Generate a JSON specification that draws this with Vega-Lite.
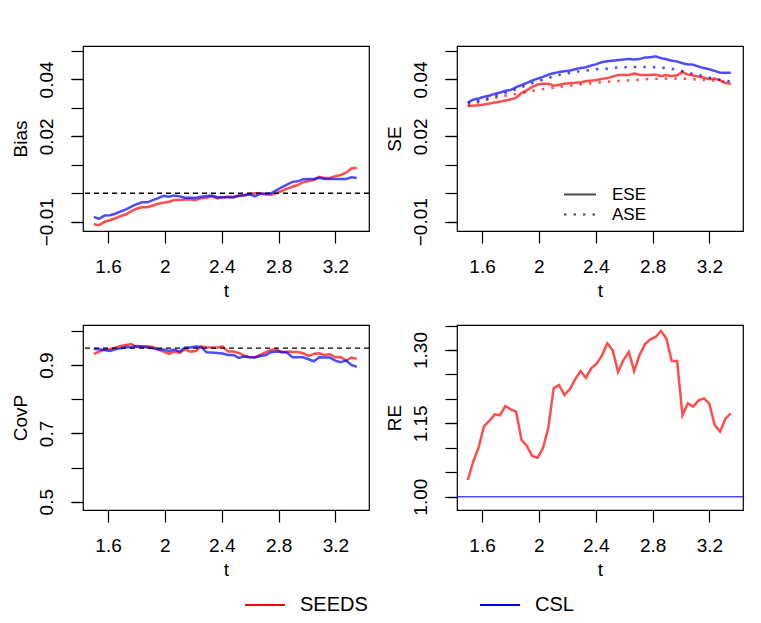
{
  "$schema": "https://vega.github.io/schema/vega-lite/v6.json",
  "padding": {"left": 10, "top": 45, "right": 5, "bottom": 5},
  "background": "white",
  "config": {
    "font": "Liberation Sans",
    "view": {"stroke": "black", "strokeWidth": 1.2},
    "axis": {"grid": false, "domain": false, "tickColor": "black", "tickSize": 12, "tickWidth": 1.2, "labelColor": "black", "titleColor": "black", "labelFontSize": 19, "titleFontSize": 19, "titleFontWeight": "normal", "labelFlush": false, "labelOverlap": false, "labelBound": false},
    "axisX": {"labelPadding": 29.7, "labelBaseline": "alphabetic", "titleX": 143, "titleY": 65, "titleBaseline": "alphabetic", "titleAlign": "center"},
    "axisY": {"labelAngle": -90, "labelAlign": "center", "labelBaseline": "alphabetic", "labelPadding": 19, "titleX": -57, "titleY": 92.5, "titleAngle": -90, "titleBaseline": "alphabetic", "titleAlign": "center"}
  },
  "datasets": {
    "bias": [
      {"t":1.5,"SEEDS":-0.0109,"CSL":-0.0083},
      {"t":1.5378,"SEEDS":-0.0112,"CSL":-0.009},
      {"t":1.5755,"SEEDS":-0.01,"CSL":-0.0078},
      {"t":1.6133,"SEEDS":-0.0095,"CSL":-0.0077},
      {"t":1.651,"SEEDS":-0.0088,"CSL":-0.0072},
      {"t":1.6888,"SEEDS":-0.008,"CSL":-0.0064},
      {"t":1.7265,"SEEDS":-0.0074,"CSL":-0.0057},
      {"t":1.7643,"SEEDS":-0.0063,"CSL":-0.0047},
      {"t":1.802,"SEEDS":-0.0054,"CSL":-0.0038},
      {"t":1.8398,"SEEDS":-0.0049,"CSL":-0.0032},
      {"t":1.8776,"SEEDS":-0.0049,"CSL":-0.0032},
      {"t":1.9153,"SEEDS":-0.0043,"CSL":-0.0024},
      {"t":1.9531,"SEEDS":-0.0037,"CSL":-0.0017},
      {"t":1.9908,"SEEDS":-0.0033,"CSL":-0.0009},
      {"t":2.0286,"SEEDS":-0.003,"CSL":-0.0012},
      {"t":2.0663,"SEEDS":-0.0024,"CSL":-0.0008},
      {"t":2.1041,"SEEDS":-0.0024,"CSL":-0.0011},
      {"t":2.1418,"SEEDS":-0.0022,"CSL":-0.0016},
      {"t":2.1796,"SEEDS":-0.0022,"CSL":-0.0016},
      {"t":2.2173,"SEEDS":-0.0024,"CSL":-0.0016},
      {"t":2.2551,"SEEDS":-0.0018,"CSL":-0.0012},
      {"t":2.2929,"SEEDS":-0.0016,"CSL":-0.001},
      {"t":2.3306,"SEEDS":-0.0011,"CSL":-0.0008},
      {"t":2.3684,"SEEDS":-0.0018,"CSL":-0.0014},
      {"t":2.4061,"SEEDS":-0.0014,"CSL":-0.0014},
      {"t":2.4439,"SEEDS":-0.0012,"CSL":-0.0014},
      {"t":2.4816,"SEEDS":-0.0012,"CSL":-0.0015},
      {"t":2.5194,"SEEDS":-0.0009,"CSL":-0.0009},
      {"t":2.5571,"SEEDS":-0.0006,"CSL":-0.0008},
      {"t":2.5949,"SEEDS":-0.0003,"CSL":-0.0004},
      {"t":2.6327,"SEEDS":0.0,"CSL":-0.0011},
      {"t":2.6704,"SEEDS":0.0,"CSL":-0.0002},
      {"t":2.7082,"SEEDS":-0.0004,"CSL":-0.0002},
      {"t":2.7459,"SEEDS":-0.0005,"CSL":0.0},
      {"t":2.7837,"SEEDS":0.0,"CSL":0.001},
      {"t":2.8214,"SEEDS":0.0008,"CSL":0.0021},
      {"t":2.8592,"SEEDS":0.0016,"CSL":0.003},
      {"t":2.8969,"SEEDS":0.0023,"CSL":0.004},
      {"t":2.9347,"SEEDS":0.0029,"CSL":0.0042},
      {"t":2.9724,"SEEDS":0.0039,"CSL":0.0049},
      {"t":3.0102,"SEEDS":0.0043,"CSL":0.005},
      {"t":3.048,"SEEDS":0.0046,"CSL":0.005},
      {"t":3.0857,"SEEDS":0.0058,"CSL":0.0054},
      {"t":3.1235,"SEEDS":0.0054,"CSL":0.005},
      {"t":3.1612,"SEEDS":0.0054,"CSL":0.005},
      {"t":3.199,"SEEDS":0.006,"CSL":0.005},
      {"t":3.2367,"SEEDS":0.0064,"CSL":0.005},
      {"t":3.2745,"SEEDS":0.0072,"CSL":0.005},
      {"t":3.3122,"SEEDS":0.0087,"CSL":0.0056},
      {"t":3.35,"SEEDS":0.009,"CSL":0.0054}
    ],
    "se_ese": [
      {"t":1.5,"SEEDS":0.0306,"CSL":0.0319},
      {"t":1.5378,"SEEDS":0.0308,"CSL":0.0329},
      {"t":1.5755,"SEEDS":0.0309,"CSL":0.0333},
      {"t":1.6133,"SEEDS":0.0312,"CSL":0.0339},
      {"t":1.651,"SEEDS":0.0315,"CSL":0.0343},
      {"t":1.6888,"SEEDS":0.0319,"CSL":0.0349},
      {"t":1.7265,"SEEDS":0.0322,"CSL":0.0354},
      {"t":1.7643,"SEEDS":0.0326,"CSL":0.036},
      {"t":1.802,"SEEDS":0.033,"CSL":0.0363},
      {"t":1.8398,"SEEDS":0.0336,"CSL":0.0373},
      {"t":1.8776,"SEEDS":0.0352,"CSL":0.038},
      {"t":1.9153,"SEEDS":0.0362,"CSL":0.0388},
      {"t":1.9531,"SEEDS":0.0374,"CSL":0.0396},
      {"t":1.9908,"SEEDS":0.0382,"CSL":0.0403},
      {"t":2.0286,"SEEDS":0.0385,"CSL":0.0409},
      {"t":2.0663,"SEEDS":0.0385,"CSL":0.0417},
      {"t":2.1041,"SEEDS":0.0378,"CSL":0.0422},
      {"t":2.1418,"SEEDS":0.0381,"CSL":0.0426},
      {"t":2.1796,"SEEDS":0.0385,"CSL":0.0429},
      {"t":2.2173,"SEEDS":0.0387,"CSL":0.0431},
      {"t":2.2551,"SEEDS":0.0388,"CSL":0.0436},
      {"t":2.2929,"SEEDS":0.039,"CSL":0.044},
      {"t":2.3306,"SEEDS":0.0394,"CSL":0.0443},
      {"t":2.3684,"SEEDS":0.0396,"CSL":0.0449},
      {"t":2.4061,"SEEDS":0.0398,"CSL":0.0454},
      {"t":2.4439,"SEEDS":0.0402,"CSL":0.0461},
      {"t":2.4816,"SEEDS":0.0405,"CSL":0.0464},
      {"t":2.5194,"SEEDS":0.041,"CSL":0.0466},
      {"t":2.5571,"SEEDS":0.0416,"CSL":0.0468},
      {"t":2.5949,"SEEDS":0.0416,"CSL":0.047},
      {"t":2.6327,"SEEDS":0.0416,"CSL":0.0472},
      {"t":2.6704,"SEEDS":0.0421,"CSL":0.047},
      {"t":2.7082,"SEEDS":0.0416,"CSL":0.0472},
      {"t":2.7459,"SEEDS":0.0416,"CSL":0.0477},
      {"t":2.7837,"SEEDS":0.0416,"CSL":0.0478},
      {"t":2.8214,"SEEDS":0.0417,"CSL":0.0481},
      {"t":2.8592,"SEEDS":0.0412,"CSL":0.0475},
      {"t":2.8969,"SEEDS":0.0415,"CSL":0.0471},
      {"t":2.9347,"SEEDS":0.0412,"CSL":0.0466},
      {"t":2.9724,"SEEDS":0.0415,"CSL":0.0463},
      {"t":3.0102,"SEEDS":0.0426,"CSL":0.0457},
      {"t":3.048,"SEEDS":0.0417,"CSL":0.0453},
      {"t":3.0857,"SEEDS":0.0414,"CSL":0.0452},
      {"t":3.1235,"SEEDS":0.041,"CSL":0.0445},
      {"t":3.1612,"SEEDS":0.0406,"CSL":0.044},
      {"t":3.199,"SEEDS":0.0401,"CSL":0.0436},
      {"t":3.2367,"SEEDS":0.0403,"CSL":0.043},
      {"t":3.2745,"SEEDS":0.0397,"CSL":0.0424},
      {"t":3.3122,"SEEDS":0.0388,"CSL":0.0423},
      {"t":3.35,"SEEDS":0.0384,"CSL":0.0424}
    ],
    "se_ase": [
      {"t":1.5,"SEEDS":0.0307,"CSL":0.0316},
      {"t":1.5378,"SEEDS":0.0314,"CSL":0.032},
      {"t":1.5755,"SEEDS":0.032,"CSL":0.0325},
      {"t":1.6133,"SEEDS":0.0326,"CSL":0.0329},
      {"t":1.651,"SEEDS":0.033,"CSL":0.0335},
      {"t":1.6888,"SEEDS":0.0335,"CSL":0.0341},
      {"t":1.7265,"SEEDS":0.034,"CSL":0.0347},
      {"t":1.7643,"SEEDS":0.0343,"CSL":0.0353},
      {"t":1.802,"SEEDS":0.0346,"CSL":0.0358},
      {"t":1.8398,"SEEDS":0.0349,"CSL":0.0366},
      {"t":1.8776,"SEEDS":0.0353,"CSL":0.0373},
      {"t":1.9153,"SEEDS":0.0356,"CSL":0.038},
      {"t":1.9531,"SEEDS":0.036,"CSL":0.0387},
      {"t":1.9908,"SEEDS":0.0363,"CSL":0.0394},
      {"t":2.0286,"SEEDS":0.0366,"CSL":0.0399},
      {"t":2.0663,"SEEDS":0.0368,"CSL":0.0405},
      {"t":2.1041,"SEEDS":0.0371,"CSL":0.0411},
      {"t":2.1418,"SEEDS":0.0374,"CSL":0.0416},
      {"t":2.1796,"SEEDS":0.0376,"CSL":0.0419},
      {"t":2.2173,"SEEDS":0.0378,"CSL":0.0423},
      {"t":2.2551,"SEEDS":0.0381,"CSL":0.0426},
      {"t":2.2929,"SEEDS":0.0383,"CSL":0.0429},
      {"t":2.3306,"SEEDS":0.0384,"CSL":0.0431},
      {"t":2.3684,"SEEDS":0.0387,"CSL":0.0433},
      {"t":2.4061,"SEEDS":0.0389,"CSL":0.0436},
      {"t":2.4439,"SEEDS":0.039,"CSL":0.0437},
      {"t":2.4816,"SEEDS":0.0392,"CSL":0.0438},
      {"t":2.5194,"SEEDS":0.0394,"CSL":0.044},
      {"t":2.5571,"SEEDS":0.0395,"CSL":0.0442},
      {"t":2.5949,"SEEDS":0.0396,"CSL":0.0443},
      {"t":2.6327,"SEEDS":0.0397,"CSL":0.0443},
      {"t":2.6704,"SEEDS":0.0398,"CSL":0.0444},
      {"t":2.7082,"SEEDS":0.0399,"CSL":0.0444},
      {"t":2.7459,"SEEDS":0.0401,"CSL":0.0444},
      {"t":2.7837,"SEEDS":0.0402,"CSL":0.0444},
      {"t":2.8214,"SEEDS":0.0402,"CSL":0.0443},
      {"t":2.8592,"SEEDS":0.0403,"CSL":0.0442},
      {"t":2.8969,"SEEDS":0.0403,"CSL":0.044},
      {"t":2.9347,"SEEDS":0.0403,"CSL":0.0438},
      {"t":2.9724,"SEEDS":0.0403,"CSL":0.0433},
      {"t":3.0102,"SEEDS":0.0403,"CSL":0.0429},
      {"t":3.048,"SEEDS":0.0402,"CSL":0.0424},
      {"t":3.0857,"SEEDS":0.0401,"CSL":0.0419},
      {"t":3.1235,"SEEDS":0.0399,"CSL":0.0416},
      {"t":3.1612,"SEEDS":0.0398,"CSL":0.0411},
      {"t":3.199,"SEEDS":0.0397,"CSL":0.0406},
      {"t":3.2367,"SEEDS":0.0396,"CSL":0.0403},
      {"t":3.2745,"SEEDS":0.0394,"CSL":0.0399},
      {"t":3.3122,"SEEDS":0.0391,"CSL":0.0396},
      {"t":3.35,"SEEDS":0.039,"CSL":0.0392}
    ],
    "covp": [
      {"t":1.5,"SEEDS":0.9329,"CSL":0.9475},
      {"t":1.5378,"SEEDS":0.9397,"CSL":0.9465},
      {"t":1.5755,"SEEDS":0.9455,"CSL":0.9446},
      {"t":1.6133,"SEEDS":0.9475,"CSL":0.9416},
      {"t":1.651,"SEEDS":0.9514,"CSL":0.9465},
      {"t":1.6888,"SEEDS":0.9562,"CSL":0.9494},
      {"t":1.7265,"SEEDS":0.9591,"CSL":0.9533},
      {"t":1.7643,"SEEDS":0.9621,"CSL":0.9523},
      {"t":1.802,"SEEDS":0.9523,"CSL":0.9562},
      {"t":1.8398,"SEEDS":0.9543,"CSL":0.9543},
      {"t":1.8776,"SEEDS":0.9553,"CSL":0.9514},
      {"t":1.9153,"SEEDS":0.9533,"CSL":0.9494},
      {"t":1.9531,"SEEDS":0.9455,"CSL":0.9465},
      {"t":1.9908,"SEEDS":0.9397,"CSL":0.9455},
      {"t":2.0286,"SEEDS":0.9329,"CSL":0.9416},
      {"t":2.0663,"SEEDS":0.9397,"CSL":0.9455},
      {"t":2.1041,"SEEDS":0.9358,"CSL":0.9397},
      {"t":2.1418,"SEEDS":0.9465,"CSL":0.9514},
      {"t":2.1796,"SEEDS":0.9397,"CSL":0.9514},
      {"t":2.2173,"SEEDS":0.9416,"CSL":0.9543},
      {"t":2.2551,"SEEDS":0.9543,"CSL":0.9533},
      {"t":2.2929,"SEEDS":0.9523,"CSL":0.9377},
      {"t":2.3306,"SEEDS":0.9514,"CSL":0.9368},
      {"t":2.3684,"SEEDS":0.9514,"CSL":0.9358},
      {"t":2.4061,"SEEDS":0.9553,"CSL":0.9339},
      {"t":2.4439,"SEEDS":0.9397,"CSL":0.93},
      {"t":2.4816,"SEEDS":0.9397,"CSL":0.93},
      {"t":2.5194,"SEEDS":0.9358,"CSL":0.9212},
      {"t":2.5571,"SEEDS":0.928,"CSL":0.9251},
      {"t":2.5949,"SEEDS":0.9241,"CSL":0.9232},
      {"t":2.6327,"SEEDS":0.9232,"CSL":0.9222},
      {"t":2.6704,"SEEDS":0.93,"CSL":0.927},
      {"t":2.7082,"SEEDS":0.9377,"CSL":0.929},
      {"t":2.7459,"SEEDS":0.9446,"CSL":0.9377},
      {"t":2.7837,"SEEDS":0.9465,"CSL":0.9397},
      {"t":2.8214,"SEEDS":0.9377,"CSL":0.9387},
      {"t":2.8592,"SEEDS":0.9397,"CSL":0.9368},
      {"t":2.8969,"SEEDS":0.9387,"CSL":0.9232},
      {"t":2.9347,"SEEDS":0.9387,"CSL":0.9232},
      {"t":2.9724,"SEEDS":0.9348,"CSL":0.9232},
      {"t":3.0102,"SEEDS":0.927,"CSL":0.9173},
      {"t":3.048,"SEEDS":0.9329,"CSL":0.9115},
      {"t":3.0857,"SEEDS":0.9348,"CSL":0.9232},
      {"t":3.1235,"SEEDS":0.93,"CSL":0.9222},
      {"t":3.1612,"SEEDS":0.9319,"CSL":0.9222},
      {"t":3.199,"SEEDS":0.9232,"CSL":0.9134},
      {"t":3.2367,"SEEDS":0.9241,"CSL":0.9086},
      {"t":3.2745,"SEEDS":0.9134,"CSL":0.9134},
      {"t":3.3122,"SEEDS":0.9222,"CSL":0.9008},
      {"t":3.35,"SEEDS":0.9183,"CSL":0.8949}
    ],
    "re": [
      {"t":1.5,"RE":1.0341},
      {"t":1.5378,"RE":1.0716},
      {"t":1.5755,"RE":1.1002},
      {"t":1.6133,"RE":1.1439},
      {"t":1.651,"RE":1.1548},
      {"t":1.6888,"RE":1.1684},
      {"t":1.7265,"RE":1.1664},
      {"t":1.7643,"RE":1.1855},
      {"t":1.802,"RE":1.1786},
      {"t":1.8398,"RE":1.1739},
      {"t":1.8776,"RE":1.1159},
      {"t":1.9153,"RE":1.1036},
      {"t":1.9531,"RE":1.0832},
      {"t":1.9908,"RE":1.0798},
      {"t":2.0286,"RE":1.0989},
      {"t":2.0663,"RE":1.1411},
      {"t":2.1041,"RE":1.2216},
      {"t":2.1418,"RE":1.2284},
      {"t":2.1796,"RE":1.208},
      {"t":2.2173,"RE":1.2195},
      {"t":2.2551,"RE":1.24},
      {"t":2.2929,"RE":1.257},
      {"t":2.3306,"RE":1.2434},
      {"t":2.3684,"RE":1.2625},
      {"t":2.4061,"RE":1.272},
      {"t":2.4439,"RE":1.2891},
      {"t":2.4816,"RE":1.3136},
      {"t":2.5194,"RE":1.2993},
      {"t":2.5571,"RE":1.255},
      {"t":2.5949,"RE":1.2795},
      {"t":2.6327,"RE":1.2959},
      {"t":2.6704,"RE":1.257},
      {"t":2.7082,"RE":1.2898},
      {"t":2.7459,"RE":1.3116},
      {"t":2.7837,"RE":1.3218},
      {"t":2.8214,"RE":1.3266},
      {"t":2.8592,"RE":1.3389},
      {"t":2.8969,"RE":1.3232},
      {"t":2.9347,"RE":1.2775},
      {"t":2.9724,"RE":1.2775},
      {"t":3.0102,"RE":1.1664},
      {"t":3.048,"RE":1.1909},
      {"t":3.0857,"RE":1.1841},
      {"t":3.1235,"RE":1.197},
      {"t":3.1612,"RE":1.2011},
      {"t":3.199,"RE":1.1902},
      {"t":3.2367,"RE":1.1466},
      {"t":3.2745,"RE":1.133},
      {"t":3.3122,"RE":1.1595},
      {"t":3.35,"RE":1.1705}
    ]
  },
  "bounds": "flush",
  "columns": 2,
  "spacing": {"row": 94, "column": 88},
  "resolve": {"scale": {"color": "independent", "strokeDash": "independent", "x": "independent", "y": "independent"}},
  "concat": [
    {
      "width": 286,
      "height": 185,
      "resolve": {"axis": {"y": "independent"}},
      "layer": [
        {
          "data": {"name": "bias"},
          "transform": [{"fold": ["SEEDS", "CSL"], "as": ["method", "value"]}],
          "mark": {"type": "line", "strokeWidth": 2.5, "opacity": 0.7},
          "encoding": {
            "x": {"field": "t", "type": "quantitative", "title": "t", "scale": {"domain": [1.424, 3.436], "nice": false, "zero": false}, "axis": {"values": [1.6, 2, 2.4, 2.8, 3.2], "format": "~g"}},
            "y": {"field": "value", "type": "quantitative", "title": "Bias", "scale": {"domain": [-0.01327, 0.05176], "nice": false, "zero": false}, "axis": {"orient": "left", "values": [-0.01, 0, 0.01, 0.02, 0.03, 0.04, 0.05], "labels": false}},
            "color": {"field": "method", "type": "nominal", "scale": {"domain": ["SEEDS", "CSL"], "range": ["red", "blue"]},
              "legend": {"orient": "none", "legendX": 161, "legendY": 538, "direction": "horizontal", "title": null, "symbolType": "stroke", "symbolSize": 1600, "symbolStrokeWidth": 2, "symbolOpacity": 1, "labelFontSize": 20, "labelColor": "black", "labelOffset": 14, "labelLimit": 200, "columnPadding": 108, "padding": 0}}
          }
        },
        {
          "data": {"values": [{}]},
          "mark": {"type": "rule", "color": "black", "strokeWidth": 1.4, "strokeDash": [5, 4]},
          "encoding": {"y": {"datum": 0, "type": "quantitative", "axis": {"orient": "left", "values": [-0.01, 0.02, 0.04], "format": ".2f", "title": null}}}
        }
      ]
    },
    {
      "width": 286,
      "height": 185,
      "resolve": {"axis": {"y": "independent"}},
      "layer": [
        {
          "data": {"name": "se_ese"},
          "transform": [{"fold": ["SEEDS", "CSL"], "as": ["method", "value"]}],
          "mark": {"type": "line", "strokeWidth": 2.5, "opacity": 0.7},
          "encoding": {
            "x": {"field": "t", "type": "quantitative", "title": "t", "scale": {"domain": [1.424, 3.436], "nice": false, "zero": false}, "axis": {"values": [1.6, 2, 2.4, 2.8, 3.2], "format": "~g"}},
            "y": {"field": "value", "type": "quantitative", "title": "SE", "scale": {"domain": [-0.01327, 0.05176], "nice": false, "zero": false}, "axis": {"orient": "left", "values": [-0.01, 0, 0.01, 0.02, 0.03, 0.04, 0.05], "labels": false}},
            "color": {"field": "method", "type": "nominal", "scale": {"domain": ["SEEDS", "CSL"], "range": ["red", "blue"]}, "legend": null},
            "strokeDash": {"datum": "ESE", "type": "nominal", "scale": {"domain": ["ESE", "ASE"], "range": [[1, 0], [2.5, 7]]},
              "legend": {"orient": "none", "legendX": 106, "legendY": 140, "direction": "vertical", "title": null, "symbolType": "stroke", "symbolSize": 1024, "symbolStrokeWidth": 2, "symbolStrokeColor": "black", "symbolOpacity": 1, "labelFontSize": 17, "labelColor": "black", "labelOffset": 15, "clipHeight": 17, "rowPadding": 2, "padding": 0}}
          }
        },
        {
          "data": {"name": "se_ase"},
          "transform": [{"fold": ["SEEDS", "CSL"], "as": ["method", "value"]}],
          "mark": {"type": "line", "strokeWidth": 2.5, "opacity": 0.7},
          "encoding": {
            "x": {"field": "t", "type": "quantitative"},
            "y": {"field": "value", "type": "quantitative", "axis": {"orient": "left", "values": [-0.01, 0.02, 0.04], "format": ".2f", "title": null}},
            "color": {"field": "method", "type": "nominal", "legend": null},
            "strokeDash": {"datum": "ASE", "type": "nominal"}
          }
        }
      ]
    },
    {
      "width": 286,
      "height": 185,
      "resolve": {"axis": {"y": "independent"}},
      "layer": [
        {
          "data": {"name": "covp"},
          "transform": [{"fold": ["SEEDS", "CSL"], "as": ["method", "value"]}],
          "mark": {"type": "line", "strokeWidth": 2.5, "opacity": 0.7},
          "encoding": {
            "x": {"field": "t", "type": "quantitative", "title": "t", "scale": {"domain": [1.424, 3.436], "nice": false, "zero": false}, "axis": {"values": [1.6, 2, 2.4, 2.8, 3.2], "format": "~g"}},
            "y": {"field": "value", "type": "quantitative", "title": "CovP", "scale": {"domain": [0.4757, 1.0176], "nice": false, "zero": false}, "axis": {"orient": "left", "values": [0.5, 0.6, 0.7, 0.8, 0.9, 1.0], "labels": false}},
            "color": {"field": "method", "type": "nominal", "scale": {"domain": ["SEEDS", "CSL"], "range": ["red", "blue"]}, "legend": null}
          }
        },
        {
          "data": {"values": [{}]},
          "mark": {"type": "rule", "color": "black", "strokeWidth": 1.4, "strokeDash": [5, 4]},
          "encoding": {"y": {"datum": 0.95, "type": "quantitative", "axis": {"orient": "left", "values": [0.5, 0.7, 0.9], "format": ".1f", "title": null}}}
        }
      ]
    },
    {
      "width": 286,
      "height": 185,
      "resolve": {"axis": {"y": "independent"}},
      "layer": [
        {
          "data": {"name": "re"},
          "mark": {"type": "line", "strokeWidth": 2.5, "opacity": 0.7, "color": "red"},
          "encoding": {
            "x": {"field": "t", "type": "quantitative", "title": "t", "scale": {"domain": [1.424, 3.436], "nice": false, "zero": false}, "axis": {"values": [1.6, 2, 2.4, 2.8, 3.2], "format": "~g"}},
            "y": {"field": "RE", "type": "quantitative", "title": "RE", "scale": {"domain": [0.9728, 1.3511], "nice": false, "zero": false}, "axis": {"orient": "left", "values": [1.0, 1.05, 1.1, 1.15, 1.2, 1.25, 1.3, 1.35], "labels": false}}
          }
        },
        {
          "data": {"values": [{}]},
          "mark": {"type": "rule", "color": "blue", "strokeWidth": 1.5, "opacity": 0.7},
          "encoding": {"y": {"datum": 1, "type": "quantitative", "axis": {"orient": "left", "values": [1.0, 1.15, 1.3], "format": ".2f", "title": null}}}
        }
      ]
    }
  ]
}
